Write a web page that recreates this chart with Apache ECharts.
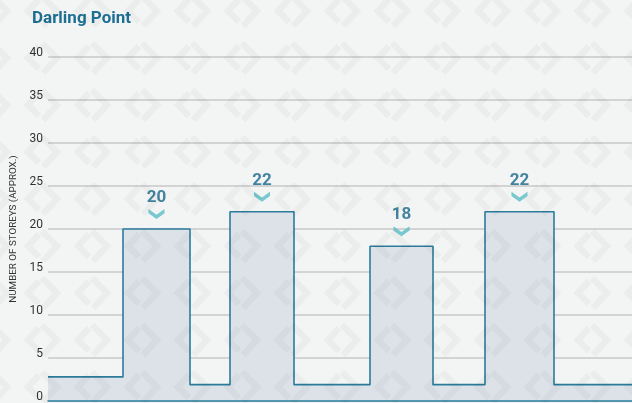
<!DOCTYPE html>
<html><head><meta charset="utf-8">
<script src="https://cdn.jsdelivr.net/npm/echarts@6/dist/echarts.min.js"></script>
<style>html,body{margin:0;padding:0;background:#f3f4f4}#c{width:632px;height:403px}</style>
</head><body><div id="c"></div><script>
const chartTitle = 'Darling Point';
const yAxisName = 'NUMBER OF STOREYS (APPROX.)';
// building frontage widths along the street (relative units) and storeys
const segmentWidths = [75, 67, 40, 64, 76, 63, 52, 69, 78];
const storeys = [2.8, 20, 1.9, 22, 1.9, 18, 1.9, 22, 1.9];
const labelValues = [20, 22, 18, 22];
const labelledSegments = [1, 3, 5, 7];
const yMin = 0, yMax = 40, yStep = 5;

// build skyline outline from the arrays
const outline = [];
const starts = [];
let pos = 0;
segmentWidths.forEach((w, i) => {
  starts.push(pos);
  outline.push([pos, storeys[i]]);
  pos += w;
  outline.push([pos, storeys[i]]);
});
const totalWidth = pos;
const labelPoints = labelledSegments.map((i, k) => ({value: [starts[i] + segmentWidths[i] / 2, storeys[i]], text: labelValues[k]}));

// watermark tile
const tile = document.createElement('canvas');
tile.width = 50; tile.height = 47;
const g = tile.getContext('2d');
g.strokeStyle = 'rgba(0,0,0,0.03)';
g.lineWidth = 6.5;
g.lineCap = 'butt';
g.lineJoin = 'miter';
function mark(cx, cy) {
  g.beginPath();
  g.moveTo(cx - 4, cy - 13); g.lineTo(cx - 15, cy - 1); g.lineTo(cx - 4, cy + 10);
  g.stroke();
  g.beginPath();
  g.moveTo(cx - 1, cy - 16); g.lineTo(cx + 14, cy - 1); g.lineTo(cx, cy + 14);
  g.stroke();
}
for (const dx of [-50, 0, 50]) for (const dy of [-47, 0, 47]) mark(43 + dx, 12 + dy);

const chart = echarts.init(document.getElementById('c'), null, {renderer: 'canvas'});
chart.setOption({
  backgroundColor: '#f3f4f4',
  animation: false,
  textStyle: {fontFamily: 'Roboto'},
  title: {
    text: chartTitle, left: 32, top: 10, padding: 0,
    textStyle: {fontSize: 17, fontWeight: 'bold', color: '#1e6f93', fontFamily: 'Roboto'}
  },
  grid: {left: 48, right: 0, top: 57, bottom: 2},
  xAxis: {
    type: 'value', min: 0, max: totalWidth, z: 5,
    axisLine: {show: true, lineStyle: {color: '#2a7fa0', width: 1.5}},
    axisTick: {show: false}, axisLabel: {show: false}, splitLine: {show: false}
  },
  yAxis: {
    type: 'value', min: yMin, max: yMax, interval: yStep,
    name: yAxisName, nameLocation: 'middle', nameRotate: 90, nameGap: 27,
    nameTextStyle: {fontSize: 9.8, color: '#333', fontFamily: 'Roboto'},
    axisLine: {show: false}, axisTick: {show: false},
    axisLabel: {color: '#333', fontSize: 12, margin: 5, verticalAlign: 'bottom', lineHeight: 9, fontFamily: 'Roboto'},
    splitLine: {lineStyle: {color: '#c9c9c9', width: 1.5}}
  },
  graphic: [{
    type: 'rect', silent: true, z: 100,
    shape: {x: 0, y: 0, width: 632, height: 403},
    style: {fill: {image: tile, repeat: 'repeat'}}
  }],
  series: [{
    type: 'line', data: outline, symbol: 'none', z: 2,
    lineStyle: {color: '#2b7b9c', width: 1.6},
    areaStyle: {color: '#dde2e9', opacity: 1, origin: 'start'}
  }, {
    type: 'scatter', data: labelPoints, z: 4,
    symbol: 'path://M0,0 L8,6 L16,0 L16,4.5 L8,10.5 L0,4.5 Z',
    symbolSize: [16, 10], symbolOffset: [0, -15],
    itemStyle: {color: '#58bdc5'},
    label: {
      show: true, position: 'top', distance: 3,
      formatter: p => String(p.data.text),
      fontSize: 17, fontWeight: 'bold', color: '#17668a', fontFamily: 'Roboto'
    }
  }]
});
</script></body></html>
